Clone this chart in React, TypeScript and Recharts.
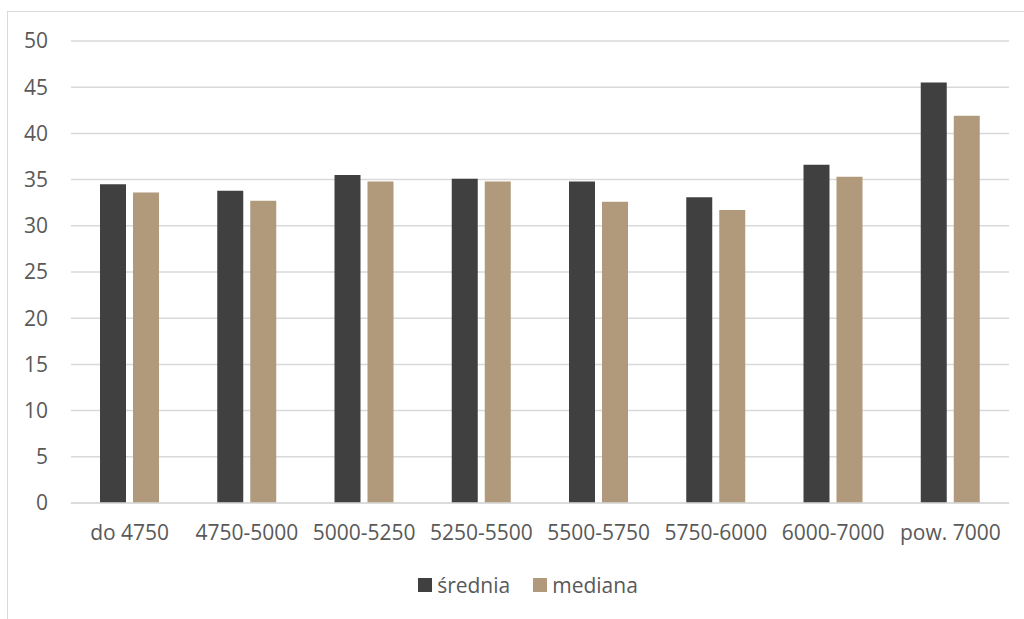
import React from "react";
import { BarChart, Bar, XAxis, YAxis, CartesianGrid, Legend } from "recharts";

const categories = ["do 4750", "4750-5000", "5000-5250", "5250-5500", "5500-5750", "5750-6000", "6000-7000", "pow. 7000"];
const sredniaValues = [34.5, 33.8, 35.5, 35.1, 34.8, 33.1, 36.6, 45.5];
const medianaValues = [33.6, 32.7, 34.8, 34.8, 32.6, 31.7, 35.3, 41.9];
const yTicks = [0, 5, 10, 15, 20, 25, 30, 35, 40, 45, 50];
const seriesNames = ["średnia", "mediana"];
const seriesColors = ["#404040", "#b09a7b"];

const data = categories.map((name, i) => ({
  name,
  srednia: sredniaValues[i],
  mediana: medianaValues[i],
}));

const font = "'Open Sans', 'Liberation Sans', sans-serif";
const textColor = "#595959";

const LegendContent = () => (
  <div style={{ display: "flex", justifyContent: "center", alignItems: "center", paddingLeft: 36, fontSize: 21, fontFamily: font, color: textColor }}>
    {seriesNames.map((n, i) => (
      <span key={n} style={{ display: "inline-flex", alignItems: "center", marginRight: i === 0 ? 23 : 0 }}>
        <span style={{ width: 14, height: 14, background: seriesColors[i], display: "inline-block", marginRight: 5 }} />
        {n}
      </span>
    ))}
  </div>
);

const App: React.FC = () => {
  return (
    <div style={{ position: "absolute", left: 0, top: 0, width: 1024, height: 619, background: "#fff", overflow: "hidden", fontFamily: font }}>
      <div style={{ position: "absolute", left: 7, top: 11, width: 1040, height: 640, border: "1px solid #d9d9d9" }} />
      <BarChart
        width={1024}
        height={619}
        data={data}
        margin={{ top: 41, right: 15, bottom: 0, left: 11 }}
        barGap={7}
        barSize={26}
        style={{ position: "absolute", left: 0, top: 0 }}
      >
        <CartesianGrid vertical={false} stroke="#d9d9d9" strokeWidth={1.5} />
        <XAxis
          dataKey="name"
          height={88}
          axisLine={{ stroke: "#d9d9d9", strokeWidth: 1.5 }}
          tickLine={false}
          tickSize={0}
          tickMargin={22}
          tick={{ fontSize: 21, fill: textColor, fontFamily: font }}
          interval={0}
        />
        <YAxis
          width={60}
          domain={[0, 50]}
          ticks={yTicks}
          axisLine={false}
          tickLine={false}
          tickSize={0}
          tickMargin={23}
          tick={{ fontSize: 21, fill: textColor, fontFamily: font }}
        />
        <Legend
          verticalAlign="bottom"
          align="center"
          content={LegendContent}
          wrapperStyle={{ top: 571 }}
        />
        <Bar dataKey="srednia" name={seriesNames[0]} fill={seriesColors[0]} isAnimationActive={false} />
        <Bar dataKey="mediana" name={seriesNames[1]} fill={seriesColors[1]} isAnimationActive={false} />
      </BarChart>
    </div>
  );
};

export default App;
